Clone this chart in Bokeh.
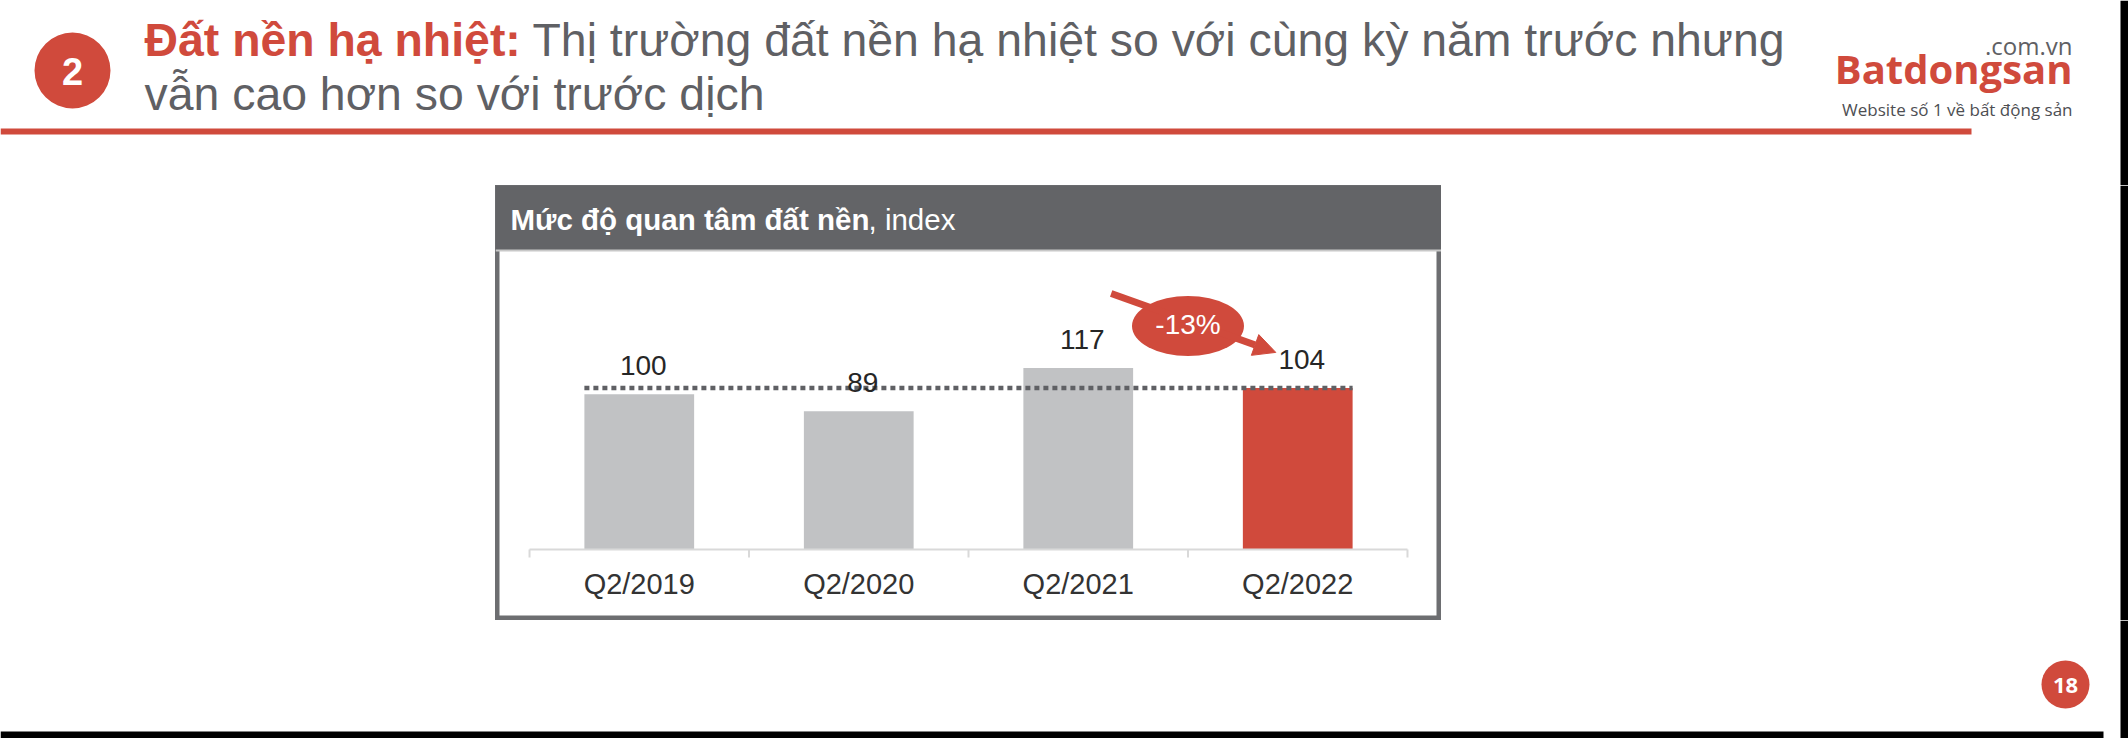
from bokeh.plotting import figure
from bokeh.models import (Range1d, FactorRange, ColumnDataSource, Label, Arrow,
                          NormalHead, BoxAnnotation, Span)
from bokeh.layouts import column, row
from bokeh.core.properties import value
from bokeh.embed import file_html
from bokeh.resources import INLINE

# ---------------- data ----------------
categories = ["Q2/2019", "Q2/2020", "Q2/2021", "Q2/2022"]
index_values = [100, 89, 117, 104]
value_labels = ["100", "89", "117", "104"]
change_label = "-13%"
chart_title_bold = "Mức độ quan tâm đất nền"
chart_title_rest = ", index"
headline_bold = "Đất nền hạ nhiệt:"
headline_rest = "Thị trường đất nền hạ nhiệt so với cùng kỳ năm trước nhưng"
headline_line2 = "vẫn cao hơn so với trước dịch"
section_number = "2"
page_number = "18"
logo_domain = ".com.vn"
logo_name = "Batdongsan"
logo_tagline = "Website số 1 về bất động sản"

# ---------------- styles ----------------
RED = "#d04a3c"
GRAY_TXT = "#5f6064"
BAND = "#636467"
BORDER = "#6d6e71"
BAR_GRAY = "#c1c2c4"
AXIS_GRAY = "#d9d9d9"
BLACK = "#000000"
SANS = value("Liberation Sans")
OPEN = value("Open Sans")
MID = 0.35  # baseline -> middle offset, in em

W, H = 2128, 738


def page_fig(x0, y0, w, h):
    f = figure(width=w, height=h, x_range=Range1d(x0, x0 + w), y_range=Range1d(y0 + h, y0),
               x_axis_location=None, y_axis_location=None, toolbar_location=None,
               tools="", output_backend="svg", min_border=0)
    f.grid.visible = False
    f.outline_line_color = None
    f.background_fill_color = "white"
    f.border_fill_color = "white"
    return f


def ptext(f, x, baseline, txt, size, color, font=SANS, bold=False, align="left"):
    f.text(x=[x], y=[baseline - MID * size], text=[txt], text_font=font,
           text_font_style="bold" if bold else "normal", text_font_size=f"{size}px",
           text_color=color, text_align=align, text_baseline="middle")


# ---------------- header ----------------
hd = page_fig(0, 0, W, 185)
hd.circle(x=[72], y=[70], radius=38, fill_color=RED, line_color=None)
hd.text(x=[72], y=[71], text=[section_number], text_font=SANS, text_font_style="bold",
        text_font_size="38px", text_color="white", text_align="center", text_baseline="middle")
ptext(hd, 144, 56, headline_bold, 46.4, RED, bold=True)
ptext(hd, 532, 56, headline_rest, 46.4, GRAY_TXT)
ptext(hd, 144, 110, headline_line2, 46.4, GRAY_TXT)
hd.quad(left=[0], right=[1971], top=[128], bottom=[134], fill_color=RED, line_color=None)
ptext(hd, 2072, 53, logo_domain, 24, GRAY_TXT, font=OPEN, align="right")
ptext(hd, 2072, 82, logo_name, 40, RED, font=OPEN, bold=True, align="right")
ptext(hd, 2072, 115, logo_tagline, 17, "#4d4e52", font=OPEN, align="right")
hd.quad(left=[2120], right=[2128], top=[0], bottom=[185], fill_color=BLACK, line_color=None)

# ---------------- chart ----------------
PPU = 1.552          # pixels per index unit
CH = 435             # chart height
AX = 364             # axis line distance from chart top
y_top = AX / PPU
band_h = 65 / PPU

cp = figure(width=946, height=CH,
            x_range=FactorRange(factors=categories, range_padding=0.155,
                                range_padding_units="absolute"),
            y_range=Range1d(-(CH - AX) / PPU, y_top),
            y_axis_location=None, toolbar_location=None, tools="",
            output_backend="svg", min_border=0)
cp.grid.visible = False
cp.background_fill_color = "white"
cp.border_fill_color = "white"
cp.outline_line_color = BORDER
cp.outline_line_width = 8

bar_colors = [BAR_GRAY] * (len(categories) - 1) + [RED]
src = ColumnDataSource(dict(cat=categories, val=index_values, lab=value_labels, color=bar_colors))
cp.vbar(x="cat", top="val", bottom=0, width=0.5, fill_color="color", line_color=None, source=src)

# reference dotted line at the latest value
n = len(categories)
cp.segment(x0=[0.25], x1=[n - 0.25], y0=[index_values[-1]], y1=[index_values[-1]],
           line_color=GRAY_TXT, line_width=4.5, line_dash="5 4")

cp.text(x="cat", y="val", text="lab", source=src, x_offset=4, y_offset=-(19 + MID * 28),
        text_font=SANS, text_font_size="28px", text_color="#262626",
        text_align="center", text_baseline="middle")

# category boundary ticks
bounds = list(range(n + 1))
cp.segment(x0=bounds, x1=bounds, y0=[0] * (n + 1), y1=[-8 / PPU] * (n + 1),
           line_color=AXIS_GRAY, line_width=2)

xa = cp.xaxis[0]
xa.fixed_location = 0
xa.bounds = (0, n)
xa.axis_line_color = AXIS_GRAY
xa.axis_line_width = 2
xa.major_tick_line_color = None
xa.major_tick_in = 0
xa.major_tick_out = 0
xa.minor_tick_line_color = None
xa.major_label_standoff = 18
xa.major_label_text_font = "Liberation Sans"
xa.major_label_text_font_size = "29px"
xa.major_label_text_color = "#333333"

# header band
cp.add_layout(BoxAnnotation(bottom=y_top - band_h, top=y_top, fill_color=BAND, fill_alpha=1,
                            line_color=None))
cp.add_layout(Span(location=y_top - band_h, dimension="width", line_color="#c8c8c8", line_width=2))
title_y = y_top - (44 - MID * 29.5) / PPU
cp.add_layout(Label(x=15, x_units="screen", y=title_y, text=chart_title_bold,
                    text_font="Liberation Sans", text_font_size="29.5px", text_font_style="bold",
                    text_color="white", text_baseline="middle"))
cp.add_layout(Label(x=373, x_units="screen", y=title_y, text=chart_title_rest,
                    text_font="Liberation Sans", text_font_size="29.5px",
                    text_color="white", text_baseline="middle"))

# change annotation between last two bars
i_prev, i_last = n - 2, n - 1
ell_y = max(index_values[i_prev], index_values[i_last]) + 27
cp.ellipse(x=[i_last], y=[ell_y], width=112, height=60, width_units="screen",
           height_units="screen", fill_color=RED, line_color=None)
cp.add_layout(Arrow(end=NormalHead(size=22, fill_color=RED, line_color=RED),
                    x_start=i_prev + 0.65, y_start=index_values[i_prev] + 48,
                    x_end=i_last + 0.4, y_end=index_values[i_last] + 23,
                    line_color=RED, line_width=7))
cp.add_layout(Label(x=i_last, y=ell_y + 2 / PPU, text=change_label, text_align="center",
                    text_baseline="middle", text_font="Liberation Sans",
                    text_font_size="28px", text_color="white"))

# ---------------- side / bottom pieces ----------------
lf = page_fig(0, 185, 495, CH)
rf = page_fig(1441, 185, 687, CH)
rf.quad(left=[2120], right=[2128], top=[185], bottom=[620], fill_color=BLACK, line_color=None)

bt = page_fig(0, 620, W, 118)
bt.circle(x=[2065], y=[684], radius=24, fill_color=RED, line_color=None)
bt.text(x=[2065], y=[685], text=[page_number], text_font=OPEN, text_font_style="bold",
        text_font_size="22px", text_color="white", text_align="center", text_baseline="middle")
bt.quad(left=[0], right=[2103], top=[731], bottom=[738], fill_color=BLACK, line_color=None)
bt.quad(left=[2120], right=[2128], top=[620], bottom=[738], fill_color=BLACK, line_color=None)

layout = column(hd, row(lf, cp, rf), bt)
open("out.html", "w").write(file_html(layout, INLINE))
